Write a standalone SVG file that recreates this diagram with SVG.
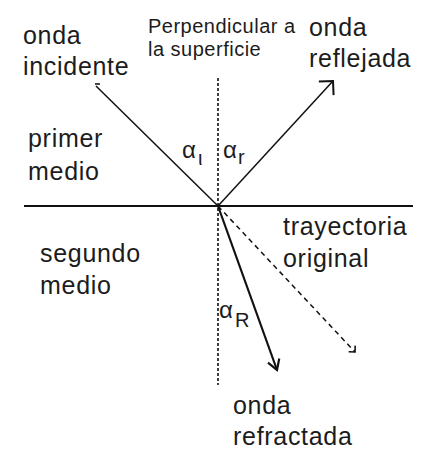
<svg xmlns="http://www.w3.org/2000/svg" width="424" height="449" viewBox="0 0 424 449">
<style>
  .lbl{font-family:"Liberation Sans",Arial,sans-serif;font-size:25px;letter-spacing:0.7px;fill:#1c1c1c}
  .sm{font-family:"Liberation Sans",Arial,sans-serif;font-size:20px;letter-spacing:0.5px;fill:#1c1c1c}
  .gr{font-family:"Liberation Sans",Arial,sans-serif;font-size:24px;fill:#1c1c1c}
  .sub{font-family:"Liberation Sans",Arial,sans-serif;font-size:20px;fill:#1c1c1c}
  .ln{stroke:#111;fill:none}
</style>
<defs>
  <marker id="open45" markerUnits="userSpaceOnUse" markerWidth="30" markerHeight="30" refX="0" refY="0" viewBox="-15 -15 30 30" orient="auto" overflow="visible">
    <path d="M-10,-10 L0,0 L-10,10" fill="none" stroke="#111" stroke-width="2"/>
  </marker>
  <marker id="open45s" markerUnits="userSpaceOnUse" markerWidth="20" markerHeight="20" refX="0" refY="0" viewBox="-10 -10 20 20" orient="auto" overflow="visible">
    <path d="M-4.5,-4.5 L0,0 L-4.5,4.5" fill="none" stroke="#111" stroke-width="1.6"/>
  </marker>
  <marker id="vhead" markerUnits="userSpaceOnUse" markerWidth="30" markerHeight="30" refX="0" refY="0" viewBox="-15 -15 30 30" orient="auto" overflow="visible">
    <path d="M-10,-6 L0,0 L-10,6" fill="none" stroke="#111" stroke-width="2.2"/>
  </marker>
</defs>
<rect width="424" height="449" fill="#fff"/>
<g id="connectors">
  <line id="surface" class="ln" x1="24" y1="206" x2="413" y2="206" stroke-width="2"/>
  <line id="normal" class="ln" x1="218" y1="78" x2="218" y2="385" stroke-width="1.6" stroke-dasharray="3,2"/>
  <line id="incident" class="ln" x1="96" y1="86" x2="218" y2="206" stroke-width="1.5"/>
  <line id="incident-tick" class="ln" x1="95" y1="84" x2="100" y2="84" stroke-width="1.5"/>
  <line id="reflected" class="ln" x1="218" y1="206" x2="333" y2="81" stroke-width="1.5" marker-end="url(#open45)"/>
  <line id="refracted" class="ln" x1="218" y1="206" x2="277" y2="370" stroke-width="2.2" marker-end="url(#vhead)"/>
  <line id="original" class="ln" x1="218" y1="206" x2="355" y2="352" stroke-width="1.5" stroke-dasharray="5,4" marker-end="url(#open45s)"/>
</g>
<g id="onda-incidente"><text class="lbl" x="23" y="44">onda</text><text class="lbl" x="23" y="75">incidente</text></g>
<g id="perpendicular"><text class="sm" x="148" y="33">Perpendicular a</text><text class="sm" x="148" y="56">la superficie</text></g>
<g id="onda-reflejada"><text class="lbl" x="309" y="36">onda</text><text class="lbl" x="309" y="67">reflejada</text></g>
<g id="primer-medio"><text class="lbl" x="28" y="147">primer</text><text class="lbl" x="28" y="180">medio</text></g>
<g id="segundo-medio"><text class="lbl" x="40" y="262">segundo</text><text class="lbl" x="40" y="294">medio</text></g>
<g id="trayectoria-original"><text class="lbl" x="283" y="235">trayectoria</text><text class="lbl" x="283" y="267">original</text></g>
<g id="onda-refractada"><text class="lbl" x="233" y="414">onda</text><text class="lbl" x="233" y="445">refractada</text></g>
<g id="alpha-i"><text class="gr" x="182" y="158">α</text><text class="sub" x="198" y="165">ι</text></g>
<g id="alpha-r"><text class="gr" x="223" y="158">α</text><text class="sub" x="238" y="164">r</text></g>
<g id="alpha-R"><text class="gr" x="219" y="318">α</text><text class="sub" x="235" y="327">R</text></g>
</svg>
